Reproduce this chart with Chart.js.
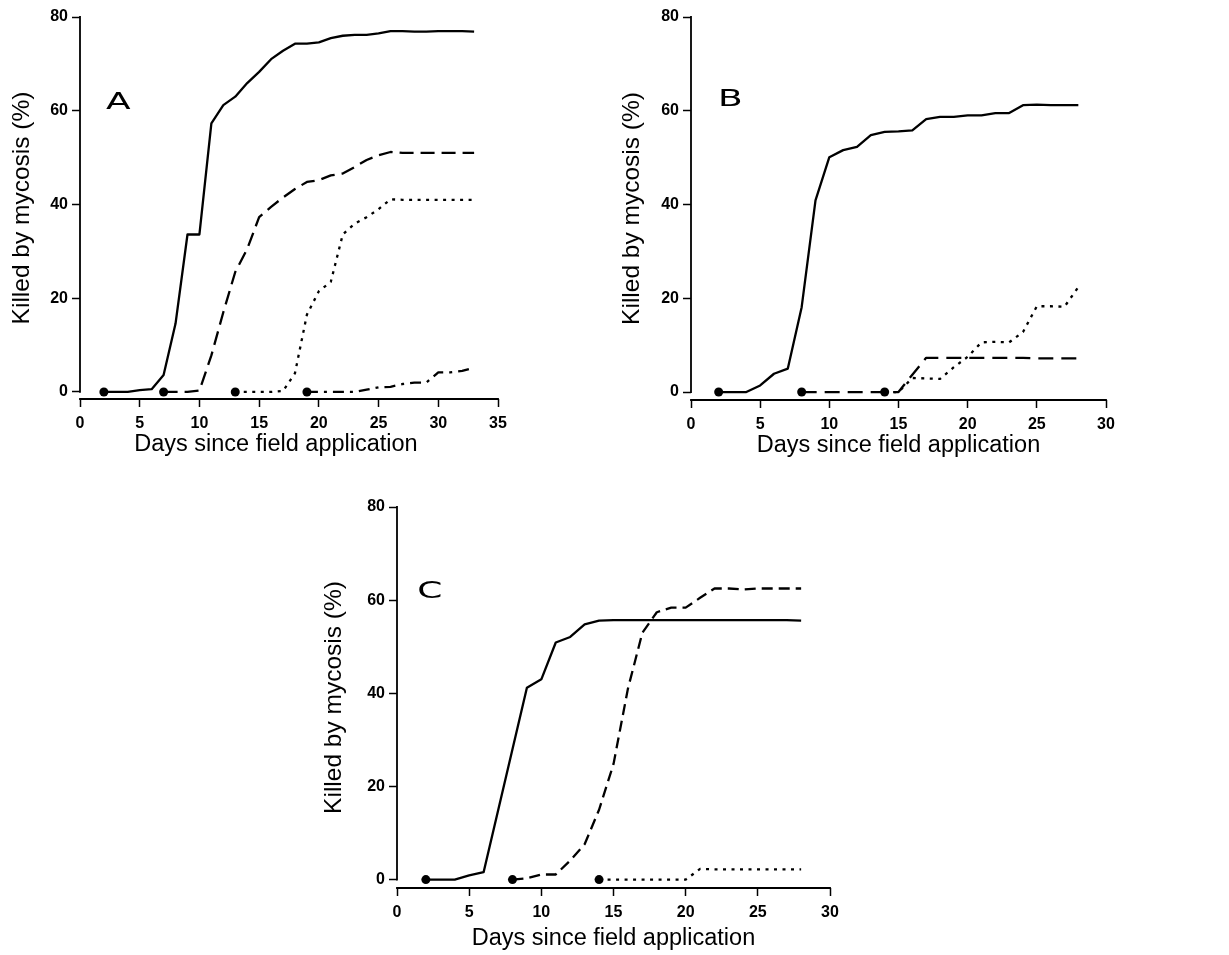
<!DOCTYPE html>
<html>
<head>
<meta charset="utf-8">
<script src="https://cdn.jsdelivr.net/npm/chart.js@4.4.0/dist/chart.umd.min.js"></script>
<style>
  html, body { margin: 0; padding: 0; background: #fff; }
  body { width: 1229px; height: 955px; position: relative; overflow: hidden; }
  .panel { position: absolute; }
</style>
</head>
<body>
<div class="panel" style="left:0px;top:0px;width:610px;height:470px;"><canvas id="cA"></canvas></div>
<div class="panel" style="left:610px;top:0px;width:619px;height:470px;"><canvas id="cB"></canvas></div>
<div class="panel" style="left:320px;top:470px;width:600px;height:485px;"><canvas id="cC"></canvas></div>
<script>
// ---------- tick labels ----------
const yTickValues = [0, 20, 40, 60, 80];
const xTicksA = [0, 5, 10, 15, 20, 25, 30, 35];
const xTicksBC = [0, 5, 10, 15, 20, 25, 30];
const xTitle = 'Days since field application';
const yTitle = 'Killed by mycosis (%)';
const panelLabels = ['A', 'B', 'C'];

// ---------- Panel A ----------
const daysA1 = [2,3,4,5,6,7,8,9,10,11,12,13,14,15,16,17,18,19,20,21,22,23,24,25,26,27,28,29,30,31,32,33];
const valsA1 = [0,0,0,0.4,0.6,3.6,14.6,33.6,33.6,57.3,61.2,63,65.9,68.3,71,72.8,74.3,74.3,74.6,75.5,76,76.2,76.2,76.5,77,77,76.9,76.9,77,77,77,76.9];
const daysA2 = [7,8,9,10,11,12,13,14,15,16,17,18,19,20,21,22,23,24,25,26,27,28,29,30,31,32,33];
const valsA2 = [0,0,0,0.3,7.8,17,25.6,30.5,37.3,39.5,41.5,43.3,44.8,45.2,46.2,46.6,48,49.5,50.5,51.2,51,51,51,51,51,51,51];
const daysA3 = [13,14,15,16,17,18,19,20,21,22,23,24,25,26,27,28,29,30,31,32,33];
const valsA3 = [0,0,0,0,0.2,4,16.5,21.5,23.5,33.6,35.9,37.3,39,41.1,41,41,41,41,41,41,41];
const daysA4 = [19,20,21,22,23,24,25,26,27,28,29,30,31,32,33];
const valsA4 = [0,0,0,0,0,0.5,1,1.1,1.7,2,2,4.2,4.2,4.5,5.2];

// ---------- Panel B ----------
const daysB1 = [2,3,4,5,6,7,8,9,10,11,12,13,14,15,16,17,18,19,20,21,22,23,24,25,26,27,28];
const valsB1 = [0,0,0,1.4,3.9,5,18.1,40.9,50.1,51.6,52.3,54.8,55.5,55.6,55.8,58.2,58.7,58.7,59,59,59.5,59.5,61.2,61.3,61.2,61.2,61.2];
const daysB2 = [8,9,10,11,12,13,14,15,16,17,18,19,20,21,22,23,24,25,26,27,28];
const valsB2 = [0,0,0,0,0,0,0,0,3.7,7.3,7.3,7.3,7.3,7.3,7.3,7.3,7.3,7.2,7.2,7.2,7.2];
const daysB3 = [14,15,16,17,18,19,20,21,22,23,24,25,26,27,28];
const valsB3 = [0,0,3,2.9,2.8,5.3,7.5,10.6,10.7,10.6,12.8,18.3,18.3,18.2,22.4];

// ---------- Panel C ----------
const daysC1 = [2,3,4,5,6,7,8,9,10,11,12,13,14,15,16,17,18,19,20,21,22,23,24,25,26,27,28];
const valsC1 = [0,0,0,0.9,1.6,14.8,28,41.2,43,50.9,52.1,54.8,55.6,55.7,55.7,55.7,55.7,55.7,55.7,55.7,55.7,55.7,55.7,55.7,55.7,55.7,55.6];
const daysC2 = [8,9,10,11,12,13,14,15,16,17,18,19,20,21,22,23,24,25,26,27,28];
const valsC2 = [0,0.3,1.1,1.1,4.1,7.6,15,24.8,41,53,57.4,58.4,58.4,60.5,62.5,62.5,62.3,62.5,62.5,62.5,62.5];
const daysC3 = [14,15,16,17,18,19,20,21,22,23,24,25,26,27,28];
const valsC3 = [0,0,0,0,0,0,0,2.3,2.2,2.2,2.2,2.2,2.2,2.2,2.2];

const FONT = "'Liberation Sans', Arial, Helvetica, sans-serif";
const SOLID = [];
const DOTTED = [3, 5.5];
const DASHDOT = [11, 6, 3, 6];

function pts(days, vals) { return days.map((d, i) => ({ x: d, y: vals[i] })); }

function series(days, vals, dash) {
  return {
    data: pts(days, vals),
    borderColor: '#000',
    backgroundColor: '#000',
    borderWidth: 2.3,
    borderDash: dash,
    borderCapStyle: 'butt',
    borderJoinStyle: 'round',
    tension: 0,
    fill: false,
    pointRadius: c => (c.dataIndex === 0 ? 4.5 : 0),
    pointHoverRadius: 0,
    pointBackgroundColor: '#000',
    pointBorderColor: '#000',
    pointBorderWidth: 0
  };
}

const rAxes = {
  id: 'rAxes',
  afterDraw(chart, args, o) {
    const { ctx, scales: { x, y }, chartArea } = chart;
    ctx.save();
    ctx.strokeStyle = '#000';
    ctx.lineWidth = 1.8;
    ctx.setLineDash([]);
    ctx.beginPath();
    ctx.moveTo(chartArea.left, y.getPixelForValue(0) + 0.9);
    ctx.lineTo(chartArea.left, y.getPixelForValue(80) - 0.9);
    ctx.moveTo(x.getPixelForValue(x.min) - 0.9, chartArea.bottom);
    ctx.lineTo(x.getPixelForValue(x.max) + 0.9, chartArea.bottom);
    ctx.stroke();
    // panel letter
    ctx.fillStyle = '#000';
    ctx.font = "400 30px 'DejaVu Sans', sans-serif";
    ctx.textAlign = 'center';
    ctx.textBaseline = 'middle';
    const px = x.getPixelForValue(o.lx), py = y.getPixelForValue(o.ly);
    ctx.translate(px, py);
    ctx.scale(1.2, 0.78);
    ctx.fillText(o.label, 0, 0);
    ctx.restore();
  }
};

function makeChart(id, cfg) {
  const { datasets, xMax, xTicks, yMin, pad, yW, xH, yTitlePad, xTitlePad, xTitleText, label, lx, ly } = cfg;
  return new Chart(document.getElementById(id), {
    type: 'line',
    data: { datasets },
    plugins: [rAxes],
    options: {
      responsive: true,
      maintainAspectRatio: false,
      animation: false,
      events: [],
      layout: { padding: pad },
      plugins: {
        legend: { display: false },
        tooltip: { enabled: false },
        rAxes: { label, lx, ly }
      },
      scales: {
        x: {
          type: 'linear',
          min: 0, max: xMax,
          afterBuildTicks: s => { s.ticks = xTicks.map(v => ({ value: v })); },
          afterFit: s => { s.height = xH; },
          border: { display: false },
          grid: { drawOnChartArea: false, drawTicks: true, tickLength: 8, tickColor: '#000', tickWidth: 1.5 },
          ticks: { color: '#000', font: { family: FONT, size: 16, weight: 'bold' }, padding: 7, maxRotation: 0 },
          title: { display: true, text: xTitleText, color: '#000', font: { family: FONT, size: 23.5 }, padding: { top: 0, bottom: xTitlePad } }
        },
        y: {
          type: 'linear',
          min: yMin, max: 80,
          afterBuildTicks: s => { s.ticks = yTickValues.map(v => ({ value: v })); },
          afterFit: s => { s.width = yW; },
          border: { display: false },
          grid: { drawOnChartArea: false, drawTicks: true, tickLength: 8, tickColor: '#000', tickWidth: 1.5 },
          ticks: { color: '#000', font: { family: FONT, size: 16, weight: 'bold' }, padding: 4 },
          title: { display: true, text: yTitle, color: '#000', font: { family: FONT, size: 24.5 }, padding: { top: yTitlePad, bottom: 0 } }
        }
      }
    }
  });
}

makeChart('cA', {
  datasets: [series(daysA1, valsA1, SOLID), series(daysA2, valsA2, [14, 7]), series(daysA3, valsA3, DOTTED), series(daysA4, valsA4, DASHDOT)],
  xMax: 35, xTicks: xTicksA, yMin: -1.5,
  pad: { left: 0, top: 17, right: 112, bottom: 0 },
  yW: 80, xH: 71, yTitlePad: 8, xTitlePad: 11,
  xTitleText: xTitle + '    ',
  label: panelLabels[0], lx: 3.2, ly: 61.7
});

makeChart('cB', {
  datasets: [series(daysB1, valsB1, SOLID), series(daysB2, valsB2, [15, 8]), series(daysB3, valsB3, DOTTED)],
  xMax: 30, xTicks: xTicksBC, yMin: -1.7,
  pad: { left: 0, top: 17, right: 123, bottom: 0 },
  yW: 81, xH: 70, yTitlePad: 8, xTitlePad: 10,
  xTitleText: xTitle,
  label: panelLabels[1], lx: 2.84, ly: 62.3
});

makeChart('cC', {
  datasets: [series(daysC1, valsC1, SOLID), series(daysC2, valsC2, [11, 6]), series(daysC3, valsC3, DOTTED)],
  xMax: 30, xTicks: xTicksBC, yMin: -1.8,
  pad: { left: 0, top: 37, right: 90, bottom: 0 },
  yW: 77, xH: 67, yTitlePad: 0, xTitlePad: 2,
  xTitleText: xTitle,
  label: panelLabels[2], lx: 2.27, ly: 61.7
});
</script>
</body>
</html>
